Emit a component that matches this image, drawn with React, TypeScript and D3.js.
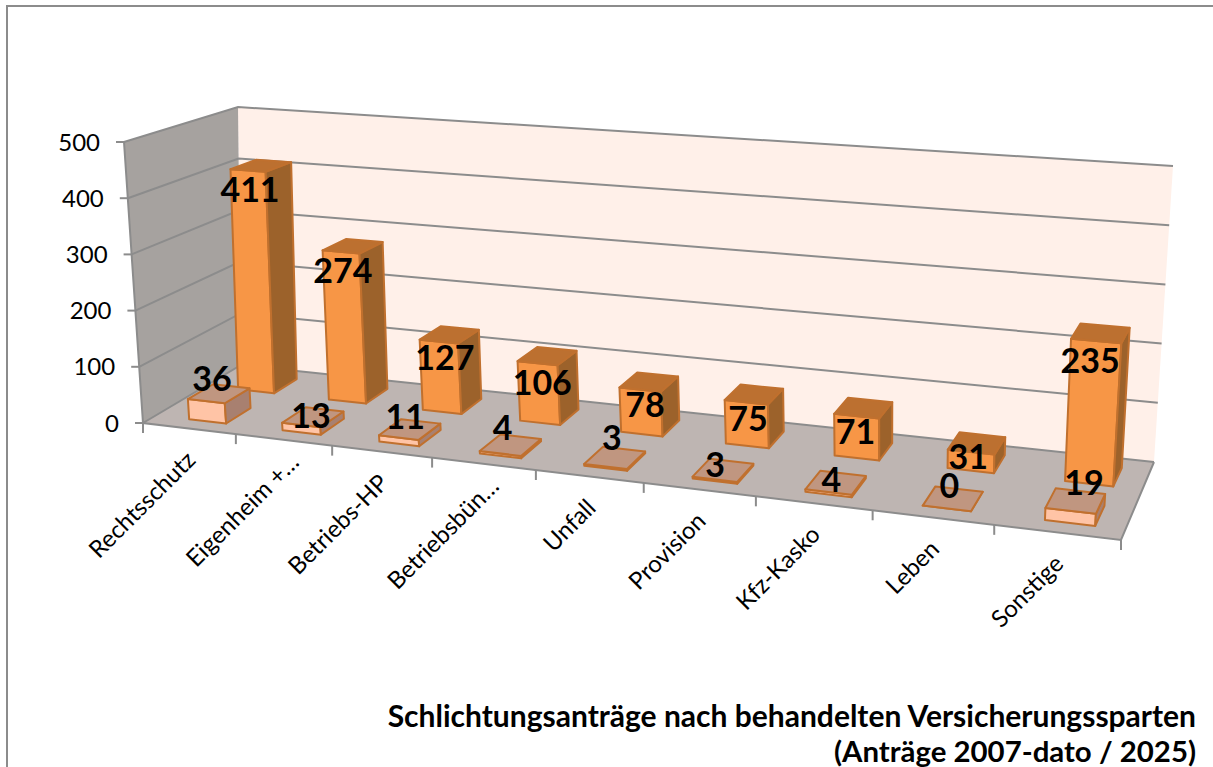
import React from "react";
import * as d3 from "d3";

const categories = ["Rechtsschutz", "Eigenheim +…", "Betriebs-HP", "Betriebsbün…", "Unfall", "Provision", "Kfz-Kasko", "Leben", "Sonstige"];
const seriesNames = ["2025", "2007-dato"];
const values2025 = [36, 13, 11, 4, 3, 3, 4, 0, 19];
const valuesTotal = [411, 274, 127, 106, 78, 75, 71, 31, 235];
const yTicks = [0, 100, 200, 300, 400, 500];
const titleLines = ["Schlichtungsanträge nach behandelten Versicherungssparten", "(Anträge 2007-dato / 2025)"];

const W = 1213;
const H = 767;
const FONT = "Lato, sans-serif";

// screen corners of the plot box, floor and roof: front-left, front-right, back-right, back-left
const floorCorners: [number, number][] = [[143, 423], [1121, 540], [1154, 462], [241, 365]];
const roofCorners: [number, number][] = [[124, 142], [1142, 218], [1173, 166], [238, 107]];

// excel moves each label around a bit, these follow the picture
const nudgeTotal: [number, number][] = [[-11, 36], [-10, 37], [-4.5, 35], [-5, 39], [-4, 35], [-6, 37], [-8, 36], [-8.5, 26], [-10.5, 40]];
const nudge2025: [number, number][] = [[-7, -3], [-2, 11], [-4.5, 0], [-8, -5], [-3, -8], [-8, 7], [-4.5, 9], [-3.5, -1], [8.5, -6]];

// unit square to quad
function homography(q: [number, number][]) {
  const [[x0, y0], [x1, y1], [x2, y2], [x3, y3]] = q;
  const dx1 = x1 - x2, dx2 = x3 - x2, sx = x0 - x1 + x2 - x3;
  const dy1 = y1 - y2, dy2 = y3 - y2, sy = y0 - y1 + y2 - y3;
  const den = dx1 * dy2 - dx2 * dy1;
  const g = (sx * dy2 - dx2 * sy) / den;
  const h = (dx1 * sy - sx * dy1) / den;
  const a = x1 - x0 + g * x1, b = x3 - x0 + h * x3;
  const d = y1 - y0 + g * y1, e = y3 - y0 + h * y3;
  return (u: number, v: number): [number, number] => {
    const t = g * u + h * v + 1;
    return [(a * u + b * v + x0) / t, (d * u + e * v + y0) / t];
  };
}
const onFloor = homography(floorCorners);
const onRoof = homography(roofCorners);
const project = (u: number, v: number, w: number): [number, number] => {
  const f = onFloor(u, v);
  const r = onRoof(u, v);
  return [f[0] + (r[0] - f[0]) * w, f[1] + (r[1] - f[1]) * w];
};

const xScale = d3.scaleBand<string>().domain(categories).range([0.007, 1.007]).paddingInner(0.6).paddingOuter(0.3);
const zScale = d3.scaleBand<string>().domain(seriesNames).range([0, 1]).paddingInner(0.5).paddingOuter(0.25);
const yScale = d3.scaleLinear().domain([0, 500]).range([0, 1]);

const poly = d3.line<[number, number]>().curve(d3.curveLinearClosed);
const seg = d3.line<[number, number]>();

const bar = (name: string, val: number, cat: string) => {
  const u0 = xScale(cat)!;
  const u1 = u0 + xScale.bandwidth();
  const v0 = zScale(name)!;
  const v1 = v0 + zScale.bandwidth();
  const w = yScale(val);
  return {
    front: poly([project(u0, v0, 0), project(u1, v0, 0), project(u1, v0, w), project(u0, v0, w)])!,
    side: poly([project(u1, v0, 0), project(u1, v1, 0), project(u1, v1, w), project(u1, v0, w)])!,
    top: poly([project(u0, v0, w), project(u1, v0, w), project(u1, v1, w), project(u0, v1, w)])!,
    label: project((u0 + u1) / 2, (v0 + v1) / 2, w),
  };
};

const Bars = ({ name, vals, face, side, top }: { name: string; vals: number[]; face: string; side: string; top: string }) => (
  <g stroke="#C0702E" strokeWidth={2} strokeLinejoin="round">
    {categories.map((c, i) => {
      const b = bar(name, vals[i], c);
      return (
        <g key={c}>
          <path d={b.front} fill={face} />
          <path d={b.side} fill={side} />
          <path d={b.top} fill={top} />
        </g>
      );
    })}
  </g>
);

export default function App() {
  const gridColor = "#8C8C8C";
  return (
    <svg width={W} height={H} style={{ position: "absolute", left: 0, top: 0 }} fontFamily={FONT}>
      <rect width={W} height={H} fill="#fff" />
      <rect x={7} y={6} width={W + 20} height={H + 20} fill="none" stroke="#8C8C8C" strokeWidth={2} />

      {/* walls and floor */}
      <path d={poly([project(0, 1, 0), project(1, 1, 0), project(1, 1, 1), project(0, 1, 1)])!} fill="#FFF0E9" />
      <path d={poly([project(0, 0, 0), project(0, 1, 0), project(0, 1, 1), project(0, 0, 1)])!} fill="#A6A29F" />
      <path d={poly([project(0, 0, 0), project(1, 0, 0), project(1, 1, 0), project(0, 1, 0)])!} fill="#BEB5B2" />

      {/* gridlines */}
      <g fill="none" stroke={gridColor} strokeWidth={2}>
        {yTicks.map((t) => (
          <path key={t} d={seg([project(0, 0, yScale(t)), project(0, 1, yScale(t)), project(1, 1, yScale(t))])!} />
        ))}
        <path d={seg([project(0, 0, 1), project(0, 0, 0), project(1, 0, 0), project(1, 1, 0)])!} />
        {yTicks.map((t) => {
          const [x, y] = project(0, 0, yScale(t));
          return <path key={t} d={`M${x - 8},${y}H${x}`} />;
        })}
        {d3.range(categories.length + 1).map((i) => {
          const [x, y] = project(i / categories.length, 0, 0);
          return <path key={i} d={`M${x},${y}V${y + 10}`} />;
        })}
      </g>

      <Bars name={seriesNames[1]} vals={valuesTotal} face="#F79646" side="#9C622B" top="#BC7030" />
      <Bars name={seriesNames[0]} vals={values2025} face="#FFC4A6" side="#A88070" top="#C09680" />

      {/* y axis labels */}
      {yTicks.map((t) => {
        const [x, y] = project(0, 0, yScale(t));
        return (
          <text key={t} x={x - 24} y={y} dy="0.36em" textAnchor="end" fontSize={24} fill="#000">
            {t}
          </text>
        );
      })}

      {/* category labels, the cut ones sit a little further along */}
      {categories.map((c, i) => {
        const [x, y] = project((i + 0.5) / categories.length, 0, 0);
        const cut = c.endsWith("…") ? 9 : 0;
        return (
          <text key={c} transform={`translate(${x + 8 + cut},${y + 33 - cut}) rotate(-45)`} textAnchor="end" fontSize={24} fill="#000">
            {c}
          </text>
        );
      })}

      {/* value labels */}
      <g fontSize={34} fontWeight={700} textAnchor="middle" fill="#000">
        {categories.map((c, i) => {
          const a = bar(seriesNames[1], valuesTotal[i], c).label;
          const b = bar(seriesNames[0], values2025[i], c).label;
          return (
            <g key={c}>
              <text x={a[0] + nudgeTotal[i][0]} y={a[1] + nudgeTotal[i][1]}>{valuesTotal[i]}</text>
              <text x={b[0] + nudge2025[i][0]} y={b[1] + nudge2025[i][1]}>{values2025[i]}</text>
            </g>
          );
        })}
      </g>

      {/* title */}
      <g fontSize={30} fontWeight={700} textAnchor="end" fill="#000">
        <text x={1196} y={727}>{titleLines[0]}</text>
        <text x={1196} y={762} fontSize={29.4}>{titleLines[1]}</text>
      </g>
    </svg>
  );
}
